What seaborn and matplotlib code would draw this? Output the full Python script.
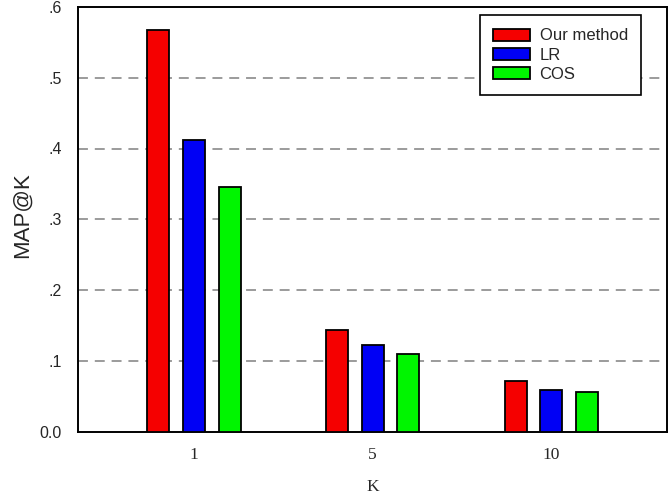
import matplotlib
matplotlib.use("Agg")
import matplotlib.pyplot as plt
import seaborn as sns
import pandas as pd

k_values = ["1", "5", "10"]
methods = ["Our method", "LR", "COS"]
our_method = [0.568, 0.143, 0.072]
lr = [0.4125, 0.1225, 0.0585]
cos = [0.3455, 0.110, 0.056]
y_ticks = [0.0, 0.1, 0.2, 0.3, 0.4, 0.5, 0.6]
y_tick_labels = ["0.0", ".1", ".2", ".3", ".4", ".5", ".6"]

df = pd.DataFrame({
    "K": k_values * 3,
    "method": [m for m in methods for _ in k_values],
    "MAP": our_method + lr + cos,
})

sns.set_style("white")
plt.rcParams["font.family"] = ["Liberation Sans", "DejaVu Sans"]
serif = ["Liberation Serif", "DejaVu Serif"]

fig = plt.figure(figsize=(6.70, 4.97), dpi=100)
ax = fig.add_axes([78 / 670, 1 - 431.5 / 497, (667 - 78) / 670, (431.5 - 7) / 497])

palette = {"Our method": "#f50000", "LR": "#0000f5", "COS": "#00f500"}
sns.barplot(data=df, x="K", y="MAP", hue="method", order=k_values,
            hue_order=methods, palette=palette, width=0.6, gap=0.385,
            edgecolor="black", linewidth=1.3, saturation=1, ax=ax, zorder=3)

ax.set_xlim(-0.649, 2.647)
ax.set_ylim(0, 0.6)
ax.set_yticks(y_ticks)
ax.set_yticklabels(y_tick_labels, fontsize=11.5)
for v in y_ticks[1:-1]:
    ax.axhline(v, color="#808080", linestyle=(0, (6.5, 4.5)), linewidth=1.1, zorder=1)

ax.tick_params(axis="y", direction="out", length=4.5, width=1.2, color="black", pad=7)
ax.tick_params(axis="x", length=0, pad=11)
for lbl in ax.get_xticklabels():
    lbl.set_fontfamily(serif)
    lbl.set_fontsize(12.5)

for sp in ax.spines.values():
    sp.set_visible(True)
    sp.set_color("black")
    sp.set_linewidth(1.4)

ax.set_xlabel("K", fontsize=12.5, fontfamily=serif, labelpad=12)
ax.set_ylabel("MAP@K", fontsize=16)
ax.yaxis.set_label_coords(-(78 - 33) / 589, (431.5 - 215.5) / 424.5)

leg = ax.legend(loc="upper right", bbox_to_anchor=(0.956, 0.981), fontsize=12,
                frameon=True, fancybox=False, edgecolor="black", framealpha=1,
                handlelength=2.2, handleheight=0.72, handletextpad=0.6,
                labelspacing=0.25, borderpad=0.8, borderaxespad=0)
leg.get_frame().set_linewidth(1.2)
leg.set_title(None)

fig.savefig("out.png", dpi=100)
